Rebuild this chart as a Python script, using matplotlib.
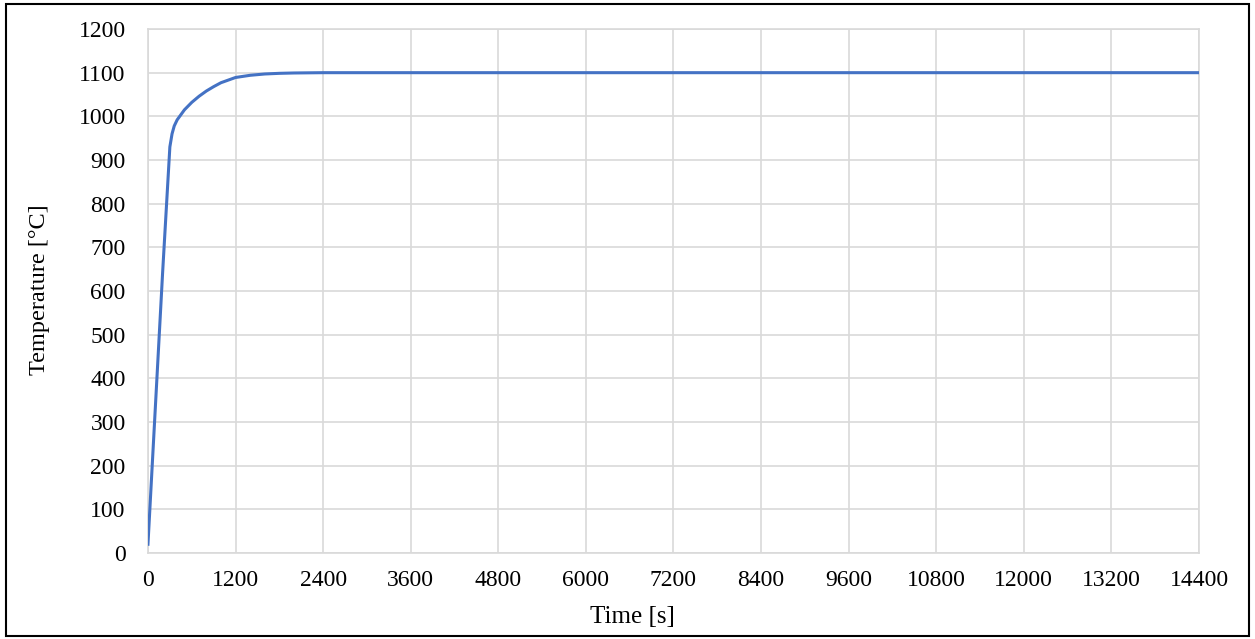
import matplotlib
matplotlib.use("Agg")
import matplotlib.pyplot as plt
import matplotlib.patches as mpatches

# datos (tiempo en s, temperatura en C)
time_s = [0, 100, 200, 300, 330, 360, 400, 500, 600, 700, 800, 900, 1000,
          1200, 1400, 1600, 1800, 2000, 2400, 3600, 4800, 6000, 7200, 8400,
          9600, 10800, 12000, 13200, 14400]
temp_c = [20, 330, 640, 930, 960, 978, 992, 1015, 1032, 1046, 1058, 1068, 1077,
          1089, 1094, 1097, 1098.5, 1099.3, 1100, 1100, 1100, 1100, 1100, 1100,
          1100, 1100, 1100, 1100, 1100]

x_ticks = list(range(0, 14401, 1200))
y_ticks = list(range(0, 1201, 100))

plt.rcParams['font.family'] = ['Liberation Serif', 'DejaVu Serif']

fig = plt.figure(figsize=(12.55, 6.39), dpi=100)
ax = fig.add_axes([0.1179, 0.1346, 0.8375, 0.82])

ax.plot(time_s, temp_c, color='#4472C4', linewidth=2.2, zorder=3)

ax.set_xlim(0, 14400)
ax.set_ylim(0, 1200)
ax.set_xticks(x_ticks)
ax.set_yticks(y_ticks)
ax.tick_params(length=0, labelsize=17)
ax.tick_params(axis='x', pad=12)
ax.tick_params(axis='y', pad=16)
ax.grid(True, color='#d9d9d9', linewidth=1.2)
for s in ax.spines.values():
    s.set_color('#d9d9d9')
    s.set_linewidth(1.2)
ax.set_axisbelow(True)

ax.set_xlabel('Time [s]', fontsize=18, va='center')
ax.set_ylabel('Temperature [°C]', fontsize=17.5, va='center')
ax.xaxis.set_label_coords(0.4605, -0.122)
ax.yaxis.set_label_coords(-0.103, 0.502)

# marco exterior
fig.patches.append(mpatches.Rectangle((0.005, 0.005), 0.99, 0.988, transform=fig.transFigure,
                                      fill=False, edgecolor='black', linewidth=1.5))

fig.savefig('out.png', dpi=100)
